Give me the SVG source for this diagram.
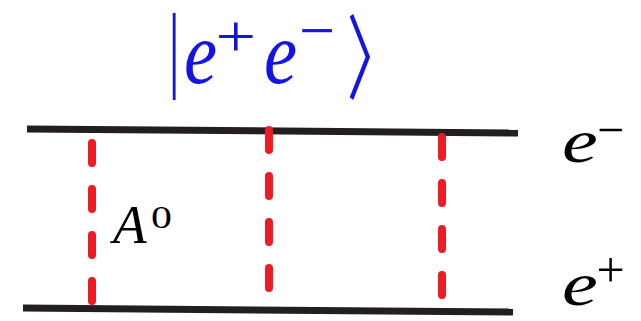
<svg xmlns="http://www.w3.org/2000/svg" width="641" height="321" viewBox="0 0 641 321">
<style>
.line{stroke:#231f20;stroke-width:7;fill:none}
.dash{stroke:#ed1c24;stroke-width:8;stroke-linecap:round;stroke-dasharray:20 26;fill:none}
</style>
<rect width="641" height="321" fill="#fff"/>
<g id="connectors">
<path class="line" d="M27 129 L518 133"/>
<path class="line" d="M23 308 L513 312"/>
<path class="dash" d="M92 143 V301"/>
<path class="dash" d="M269 130 V289"/>
<path class="dash" d="M442 137 V296"/>
</g>
<g id="ket" fill="#1414e6" font-family="Liberation Serif, serif">
<text font-size="95" transform="translate(168.5,80) scale(0.6,1)">|</text>
<text font-size="88" font-style="italic" transform="translate(184,83) scale(0.85,1)">e</text>
<text font-size="60" transform="translate(215.5,56) scale(1.2,1)">+</text>
<text font-size="88" font-style="italic" transform="translate(264,83) scale(0.85,1)">e</text>
<text x="299" y="52" font-size="64">−</text>
<text font-size="105" font-family="Noto Sans CJK SC, sans-serif" transform="translate(346.7,92.4) scale(0.54,0.88)">〉</text>
</g>
<g id="label-eminus" font-family="Liberation Serif, serif" fill="#000">
<text font-size="62" font-style="italic" transform="translate(562,162) scale(1.3,1)">e</text>
<text x="597" y="146" font-size="48">−</text>
</g>
<g id="label-eplus" font-family="Liberation Serif, serif" fill="#000">
<text font-size="62" font-style="italic" transform="translate(562,305) scale(1.3,1)">e</text>
<text x="596.5" y="287" font-size="50">+</text>
</g>
<g id="label-A0" font-family="Liberation Serif, serif" fill="#000">
<text x="113" y="243" font-size="55" font-style="italic">A</text>
<text font-size="31" transform="translate(151,228) scale(1.35,1)">0</text>
</g>
</svg>
